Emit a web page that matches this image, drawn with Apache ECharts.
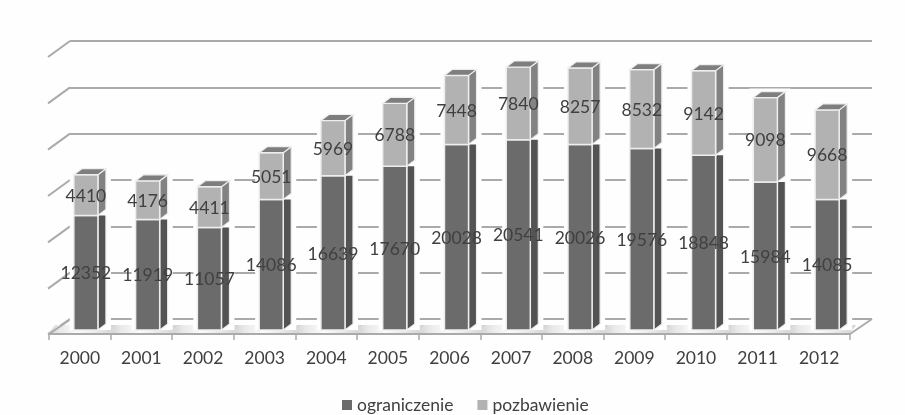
<!DOCTYPE html>
<html>
<head>
<meta charset="utf-8">
<style>html,body{margin:0;padding:0;background:#fefefe}#chart{width:905px;height:415px}</style>
<script src="https://cdn.jsdelivr.net/npm/echarts@6/dist/echarts.min.js"></script>
</head>
<body>
<div id="chart"></div>
<script>
const years = ['2000','2001','2002','2003','2004','2005','2006','2007','2008','2009','2010','2011','2012'];
const ograniczenie = [12352,11919,11057,14086,16639,17670,20028,20541,20026,19576,18848,15984,14085];
const pozbawienie = [4410,4176,4411,5051,5969,6788,7448,7840,8257,8532,9142,9098,9668];
const wallTicks = [0,5000,10000,15000,20000,25000,30000];

const FONT = 'Lato, sans-serif';
const FONT_SIZE = 17.5;
const TEXT = '#404040';
const LINE = '#aaaaaa';
const EDGE = '#eeeeee';
// Oblique projection of the pseudo-3D columns and of the chart floor
const BAR_DX = 8, BAR_DY = 6, WALL_DX = 22, WALL_DY = 15;

function poly(points, fill, stroke, lineWidth) {
  return {
    type: 'polygon',
    shape: { points },
    style: { fill, stroke: stroke || null, lineWidth: lineWidth || 0 }
  };
}

// One stacked segment: white halo, front face, side face, cap and value label
function columnSegment(palette) {
  return function (params, api) {
    const i = api.value(0), base = api.value(1), val = api.value(2);
    const [cx, y0] = api.coord([i, base]);
    const y1 = api.coord([i, base + val])[1];
    const w = api.size([1, 0])[0] * 0.39;
    const l = cx - w / 2, r = cx + w / 2;
    const children = [
      { type: 'rect', shape: { x: l - 4, y: y1 - BAR_DY - 3, width: w + BAR_DX + 9, height: y0 - y1 + BAR_DY + 3 },
        style: { fill: '#fefefe' } },
      poly([[r, y0], [r + BAR_DX, y0 - BAR_DY], [r + BAR_DX, y1 - BAR_DY], [r, y1]], palette.side, EDGE, 1.2),
      { type: 'rect', shape: { x: l, y: y1, width: w, height: y0 - y1 },
        style: { fill: palette.front, stroke: EDGE, lineWidth: 1.5 } }
    ];
    if (palette.cap) {
      children.push(poly([[l, y1], [r, y1], [r + BAR_DX, y1 - BAR_DY], [l + BAR_DX, y1 - BAR_DY]], palette.cap, EDGE, 1.2));
    }
    children.push({
      type: 'text', z2: 10,
      style: { text: String(val), x: cx, y: (y0 + y1) / 2 + 1, align: 'center', verticalAlign: 'middle',
        font: FONT_SIZE + 'px ' + FONT, fill: TEXT }
    });
    return { type: 'group', children };
  };
}

// Floor: outline plus a soft shadow band under each column
function floorCell(params, api) {
  const i = api.value(0);
  const [cx, yf] = api.coord([i, 0]);
  const w = api.size([1, 0])[0];
  const l = cx - w / 2, r = cx + w / 2;
  const shade = {
    type: 'linear', x: 0, y: 0, x2: 1, y2: 0,
    colorStops: [
      { offset: 0, color: '#d2d2d2' }, { offset: 0.15, color: '#e8e8e8' },
      { offset: 0.42, color: '#fbfbfb' }, { offset: 0.6, color: '#f0f0f0' },
      { offset: 1, color: '#d2d2d2' }
    ]
  };
  const children = [poly([[l, yf - 1], [r, yf - 1], [r + 6, yf - 9], [l + 6, yf - 9]], shade)];
  if (i === 0) {
    children.push({ type: 'polyline', shape: { points: [[l, yf], [l + WALL_DX, yf - WALL_DY]] },
      style: { stroke: LINE, lineWidth: 2, fill: null } });
  }
  if (i === years.length - 1) {
    children.push({ type: 'polyline', shape: { points: [[r, yf], [r + WALL_DX, yf - WALL_DY]] },
      style: { stroke: LINE, lineWidth: 2, fill: null } });
  }
  return { type: 'group', children };
}

// Short oblique stubs that carry each wall gridline towards the viewer
function wallStub(params, api) {
  const [x, y] = api.coord([0, api.value(0)]);
  return {
    type: 'polyline',
    shape: { points: [[x, y], [x - WALL_DX, y + (api.value(0) === 0 ? WALL_DY : 16)]] },
    style: { stroke: LINE, lineWidth: 2, fill: null }
  };
}

const chart = echarts.init(document.getElementById('chart'), null, { renderer: 'canvas' });
chart.setOption({
  backgroundColor: '#fefefe',
  animation: false,
  textStyle: { fontFamily: FONT },
  grid: [
    { left: 70, width: 802, top: 41, height: 278 },   // back wall
    { left: 49, width: 801, top: 56, height: 278 },   // front axis with the year labels
    { left: 55, width: 803, top: 52, height: 278 }    // column plane
  ],
  xAxis: [
    { gridIndex: 0, type: 'value', min: 0, max: 1, show: false },
    { gridIndex: 1, type: 'category', data: years,
      axisLine: { lineStyle: { color: LINE, width: 2 } },
      axisTick: { show: true, length: 6, lineStyle: { color: LINE, width: 1.5 } },
      axisLabel: { color: TEXT, fontSize: FONT_SIZE, fontFamily: FONT, margin: 15 } },
    { gridIndex: 2, type: 'category', data: years, show: false }
  ],
  yAxis: [
    { gridIndex: 0, type: 'value', min: 0, max: 30000, interval: 5000,
      axisLine: { show: false }, axisTick: { show: false }, axisLabel: { show: false },
      splitLine: { show: true, lineStyle: { color: LINE, width: 2 } } },
    { gridIndex: 1, type: 'value', min: 0, max: 30000, show: false, splitLine: { show: false } },
    { gridIndex: 2, type: 'value', min: 0, max: 30000, show: false, splitLine: { show: false } }
  ],
  legend: {
    data: ['ograniczenie', 'pozbawienie'],
    left: 337, top: 391,
    icon: 'rect', itemWidth: 10, itemHeight: 10, itemGap: 24,
    textStyle: { color: TEXT, fontSize: FONT_SIZE, fontFamily: FONT }
  },
  series: [
    { type: 'custom', name: 'wall', xAxisIndex: 0, yAxisIndex: 0, z: 1, silent: true, clip: false,
      renderItem: wallStub, data: wallTicks.map(v => [v]), encode: { y: 0 } },
    { type: 'custom', name: 'floor', xAxisIndex: 1, yAxisIndex: 1, z: 2, silent: true, clip: false,
      renderItem: floorCell, data: years.map((_, i) => [i]), encode: { x: 0 } },
    { type: 'custom', name: 'ograniczenie', xAxisIndex: 2, yAxisIndex: 2, z: 3, clip: false,
      itemStyle: { color: '#6b6b6b' },
      renderItem: columnSegment({ front: '#6b6b6b', side: '#535353' }),
      data: ograniczenie.map((v, i) => [i, 0, v]), encode: { x: 0, y: 2 } },
    { type: 'custom', name: 'pozbawienie', xAxisIndex: 2, yAxisIndex: 2, z: 4, clip: false,
      itemStyle: { color: '#b2b2b2' },
      renderItem: columnSegment({ front: '#b2b2b2', side: '#828282', cap: '#7e7e7e' }),
      data: pozbawienie.map((v, i) => [i, ograniczenie[i], v]), encode: { x: 0, y: 2 } }
  ]
});
</script>
</body>
</html>
